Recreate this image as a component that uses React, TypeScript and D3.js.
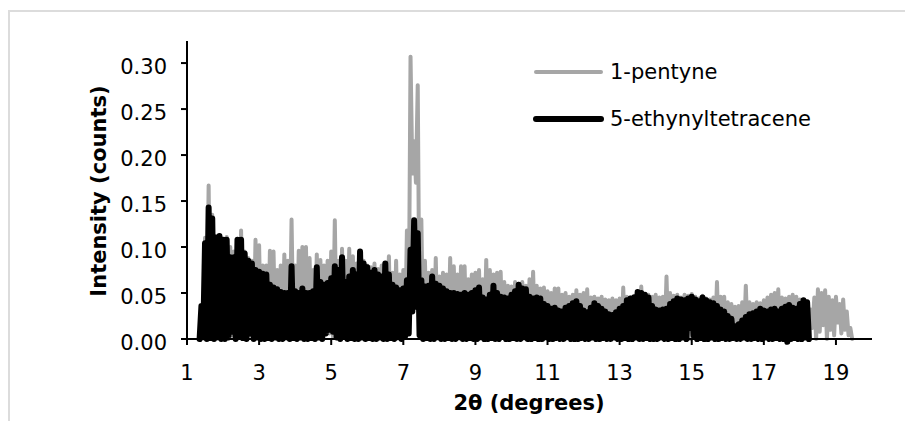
import React from 'react';
import * as d3 from 'd3';

// scan grid, 0.05 deg steps: troughs sit at 1.35 + 0.1*i, peaks at 1.40 + 0.1*i
const scanStart = 1.35;
const scanStep = 0.05;

const tetracenePeaks = [
  0.036, 0.104, 0.143, 0.131, 0.110, 0.112, 0.108, 0.108, 0.089, 0.089,
  0.108, 0.108, 0.093, 0.085, 0.082, 0.075, 0.073, 0.071, 0.070, 0.059,
  0.056, 0.054, 0.051, 0.050, 0.050, 0.079, 0.052, 0.050, 0.055, 0.050,
  0.050, 0.052, 0.078, 0.062, 0.059, 0.061, 0.066, 0.079, 0.075, 0.089,
  0.062, 0.068, 0.075, 0.070, 0.095, 0.082, 0.078, 0.072, 0.075, 0.070,
  0.068, 0.082, 0.070, 0.059, 0.056, 0.053, 0.055, 0.064, 0.097, 0.129,
  0.115, 0.064, 0.057, 0.058, 0.068, 0.060, 0.058, 0.055, 0.052, 0.050,
  0.050, 0.049, 0.048, 0.050, 0.048, 0.050, 0.053, 0.056, 0.045, 0.043,
  0.048, 0.058, 0.050, 0.046, 0.045, 0.044, 0.048, 0.052, 0.059, 0.055,
  0.054, 0.046, 0.044, 0.045, 0.044, 0.038, 0.036, 0.033, 0.034, 0.031,
  0.030, 0.034, 0.036, 0.039, 0.041, 0.036, 0.031, 0.029, 0.034, 0.039,
  0.036, 0.033, 0.030, 0.027, 0.026, 0.029, 0.033, 0.036, 0.042, 0.044,
  0.045, 0.051, 0.050, 0.048, 0.045, 0.036, 0.032, 0.031, 0.032, 0.033,
  0.038, 0.041, 0.044, 0.043, 0.042, 0.044, 0.046, 0.043, 0.041, 0.045,
  0.042, 0.040, 0.039, 0.036, 0.032, 0.030, 0.025, 0.022, 0.014, 0.016,
  0.020, 0.024, 0.027, 0.028, 0.030, 0.033, 0.031, 0.030, 0.032, 0.033,
  0.030, 0.033, 0.035, 0.037, 0.034, 0.033, 0.038, 0.042, 0.040,
];

const tetraceneTroughs = [
  0, 0.002, 0, 0.001, 0, 0.003, 0, 0, 0.002, 0.008,
  0, 0.004, 0.001, 0, 0.006, 0, 0.002, 0, 0, 0.001,
  0, 0.002, 0, 0, 0.003, 0, 0.001, 0, 0.002, 0,
  0, 0.001, 0, 0.002, 0, 0.006, 0.010, 0.008, 0.002, 0,
  0.003, 0, 0.001, 0, 0, 0.002, 0, 0.001, 0, 0,
  0.002, 0, 0, 0.001, 0, 0.002, 0, 0.003, 0.006, 0.030,
  0.035, 0.004, 0, 0.001, 0, 0, 0.002, 0, 0, 0.001,
  0, 0, 0.002, 0, 0, 0.001, 0, 0, 0.002, 0,
  0, 0.001, 0, 0, 0.003, 0, 0, 0.001, 0, 0,
  0.002, 0, 0, 0.001, 0, 0, 0.002, 0, 0, 0.001,
  0, 0, 0.002, 0, 0, 0, 0.001, 0, 0, 0.002,
  0, 0, 0.001, 0, 0, 0.002, 0, 0, 0.001, 0,
  0, 0.002, 0, 0, 0.001, 0, 0, 0, 0.002, 0,
  0, 0.001, 0, 0, 0.002, 0, 0.012, 0.004, 0, 0.001,
  0, 0, 0.002, 0, 0, 0.001, 0, 0, 0.001, 0,
  0, 0.002, 0, 0, 0.001, 0, 0, 0.002, 0, 0,
  0.001, 0, 0, -0.003, 0, 0.001, 0, 0, 0.002, 0,
];

const pentynePeaks = [
  0.030, 0.110, 0.167, 0.135, 0.112, 0.110, 0.105, 0.111, 0.100, 0.095,
  0.108, 0.118, 0.095, 0.088, 0.085, 0.108, 0.102, 0.080, 0.080, 0.096,
  0.095, 0.075, 0.080, 0.092, 0.085, 0.130, 0.080, 0.096, 0.100, 0.100,
  0.088, 0.075, 0.092, 0.086, 0.080, 0.085, 0.095, 0.129, 0.085, 0.098,
  0.085, 0.098, 0.090, 0.082, 0.088, 0.085, 0.080, 0.078, 0.082, 0.076,
  0.080, 0.075, 0.090, 0.072, 0.085, 0.070, 0.075, 0.118, 0.307, 0.215,
  0.276, 0.130, 0.085, 0.072, 0.075, 0.088, 0.068, 0.072, 0.070, 0.088,
  0.079, 0.070, 0.079, 0.079, 0.065, 0.070, 0.072, 0.075, 0.065, 0.086,
  0.075, 0.070, 0.072, 0.073, 0.062, 0.058, 0.057, 0.062, 0.060, 0.062,
  0.058, 0.065, 0.073, 0.058, 0.055, 0.056, 0.052, 0.050, 0.055, 0.055,
  0.048, 0.050, 0.046, 0.048, 0.053, 0.048, 0.050, 0.054, 0.045, 0.046,
  0.044, 0.046, 0.043, 0.042, 0.044, 0.042, 0.044, 0.056, 0.046, 0.045,
  0.047, 0.050, 0.057, 0.049, 0.048, 0.046, 0.048, 0.045, 0.046, 0.068,
  0.050, 0.047, 0.048, 0.045, 0.048, 0.047, 0.049, 0.046, 0.044, 0.047,
  0.044, 0.043, 0.045, 0.062, 0.046, 0.046, 0.040, 0.038, 0.035, 0.036,
  0.040, 0.058, 0.040, 0.038, 0.040, 0.039, 0.042, 0.045, 0.048, 0.050,
  0.054, 0.045, 0.044, 0.046, 0.048, 0.046, 0.043, 0.040, 0.036, 0.032,
  0.045, 0.054, 0.050, 0.053, 0.046, 0.042, 0.046, 0.038, 0.043, 0.030, 0.012,
];

const pentyneTroughs = [
  0, 0.002, 0, 0, 0.001, 0, 0.003, 0, 0, 0.004,
  0, 0.003, 0, 0, 0.004, 0, 0, 0.002, 0, 0,
  0.001, 0, 0, 0.002, 0, 0, 0.003, 0, 0, 0.001,
  0, 0.002, 0, 0, 0.004, 0.008, 0.006, 0.002, 0, 0,
  0.002, 0, 0, 0.001, 0, 0, 0.003, 0, 0, 0.001,
  0, 0, 0.002, 0, 0, 0.001, 0, 0.002, 0.010, 0.180,
  0.170, 0.010, 0, 0.002, 0, 0, 0.001, 0, 0, 0.002,
  0, 0, 0.001, 0, 0, 0.003, 0, 0, 0.001, 0,
  0, 0.002, 0, 0, 0.001, 0, 0, 0.002, 0, 0,
  0.001, 0, 0, 0.002, 0, 0, 0.001, 0, 0, 0.003,
  0, 0, 0.001, 0, 0, 0.002, 0, 0, 0.001, 0,
  0, 0.002, 0, 0, 0.001, 0, 0, 0.002, 0, 0,
  0.001, 0, 0, 0.002, 0, 0, 0.001, 0, 0, 0.002,
  0, 0, 0.001, 0, 0, 0, 0, 0.002, 0, 0,
  0.001, 0, 0, 0.002, 0, 0, 0.001, 0, 0, 0.002,
  0, 0, 0.001, 0, 0, 0.002, 0, 0, 0.001, 0,
  0, 0.002, 0, 0, 0.001, 0, 0, 0.002, 0, 0.001,
  0.012, 0, 0.008, 0.015, 0, 0.010, 0.004, 0.018, 0.006, 0.010,
  0.004, 0,
];

const xTicks = [1, 3, 5, 7, 9, 11, 13, 15, 17, 19];
const yTicks = [0, 0.05, 0.1, 0.15, 0.2, 0.25, 0.3];
const seriesNames = ['1-pentyne', '5-ethynyltetracene'];
const seriesColors = ['#a6a6a6', '#000000'];

const width = 905;
const height = 421;
const font = 'Verdana, "DejaVu Sans", sans-serif';

// merge troughs and peaks back into the scan order
const buildScan = (troughs: number[], peaks: number[]) => {
  const pts: [number, number][] = [];
  troughs.forEach((t, i) => {
    pts.push([scanStart + scanStep * 2 * i, t]);
    if (i < peaks.length) pts.push([scanStart + scanStep * (2 * i + 1), peaks[i]]);
  });
  return pts;
};

export default function App() {
  const xScale = d3.scaleLinear().domain([1, 20]).range([187, 872]);
  const yScale = d3.scaleLinear().domain([0, 0.324]).range([339, 41]);

  const line = d3
    .line<[number, number]>()
    .x((d) => xScale(d[0]))
    .y((d) => yScale(d[1]));

  const pentyne = buildScan(pentyneTroughs, pentynePeaks);
  const tetracene = buildScan(tetraceneTroughs, tetracenePeaks);

  const x0 = xScale(1);
  const yBase = yScale(0);

  return (
    <svg
      width={width}
      height={height}
      style={{ position: 'absolute', left: 0, top: 0, background: '#fff' }}
      fontFamily={font}
    >
      {/* outer frame */}
      <path d={`M9,${height} V11 H${width}`} fill="none" stroke="#dcdcdc" strokeWidth={2} />

      <path
        d={line(pentyne) || ''}
        fill="none"
        stroke={seriesColors[0]}
        strokeWidth={4}
        strokeLinejoin="round"
        strokeLinecap="round"
      />
      <path
        d={line(tetracene) || ''}
        fill="none"
        stroke={seriesColors[1]}
        strokeWidth={6}
        strokeLinejoin="round"
        strokeLinecap="round"
      />

      {/* y axis */}
      <line x1={x0} x2={x0} y1={yScale.range()[1]} y2={yBase} stroke="#000" strokeWidth={2} />
      {yTicks.map((t) => (
        <g key={t}>
          <line x1={x0 - 6} x2={x0} y1={yScale(t)} y2={yScale(t)} stroke="#000" strokeWidth={2} />
          <text x={x0 - 20} y={yScale(t) + 11} textAnchor="end" fontSize={21}>
            {d3.format('.2f')(t)}
          </text>
        </g>
      ))}

      {/* x axis */}
      <line x1={x0} x2={xScale.range()[1]} y1={yBase} y2={yBase} stroke="#000" strokeWidth={2} />
      {xTicks.map((t) => (
        <g key={t}>
          <line x1={xScale(t)} x2={xScale(t)} y1={yBase} y2={yBase + 6} stroke="#000" strokeWidth={2} />
          <text x={xScale(t)} y={380} textAnchor="middle" fontSize={21}>
            {t}
          </text>
        </g>
      ))}

      <text x={529} y={410} textAnchor="middle" fontSize={21} fontWeight="bold">
        2θ (degrees)
      </text>
      <text
        transform="translate(106,191) rotate(-90)"
        textAnchor="middle"
        fontSize={21}
        fontWeight="bold"
      >
        Intensity (counts)
      </text>

      {/* legend */}
      {seriesNames.map((name, i) => (
        <g key={name}>
          <line
            x1={536}
            x2={601}
            y1={72 + i * 47}
            y2={72 + i * 47}
            stroke={seriesColors[i]}
            strokeWidth={i === 0 ? 4 : 6}
            strokeLinecap="round"
          />
          <text x={610} y={79 + i * 47} fontSize={21}>
            {name}
          </text>
        </g>
      ))}
    </svg>
  );
}
